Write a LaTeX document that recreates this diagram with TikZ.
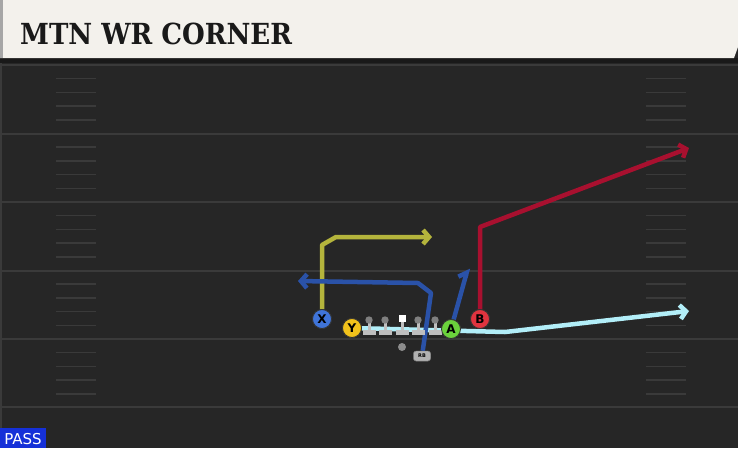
\documentclass[tikz,border=0pt]{standalone}
\usepackage{fontspec}
\setmainfont{DejaVu Sans}
\newfontfamily\titlefont{DejaVu Serif Condensed}
\usetikzlibrary{arrows.meta,shapes}

\definecolor{fieldgray}{HTML}{262626}
\definecolor{linegray}{HTML}{3A3A3A}
\definecolor{headcream}{HTML}{F3F1EC}
\definecolor{passblue}{HTML}{1530D8}
\definecolor{xblue}{HTML}{3F74D9}
\definecolor{yyellow}{HTML}{F2C21B}
\definecolor{agreen}{HTML}{6BD23C}
\definecolor{bred}{HTML}{E0343F}
\definecolor{routeyellow}{HTML}{B4B43C}
\definecolor{routeblue}{HTML}{2A52A8}
\definecolor{routered}{HTML}{A8102F}
\definecolor{routecyan}{HTML}{B2EEF8}

\begin{document}
\begin{tikzpicture}[x=1pt,y=-1pt,
		player/.style={circle,draw=black!80,line width=0.8pt,minimum size=19pt,inner sep=0pt,font=\bfseries\fontsize{12}{12}\selectfont},
		rbtag/.style={draw=black!60,fill=black!30,rounded corners=2.5pt,minimum width=17pt,minimum height=10pt,inner sep=0pt,font=\bfseries\fontsize{5}{5}\selectfont},
		route/.style={line width=4.5pt,line join=round,-{Straight Barb[length=6pt,width=14pt]}},
		hash/.style={linegray,line width=1.5pt}]
		\useasboundingbox (0,0) rectangle (738,448);
		% field
		\fill[fieldgray] (0,0) rectangle (738,448);
		\fill[black!90] (0,58) rectangle (738,63);
		\fill[linegray] (0,63) rectangle (2,448);
		\foreach \y in {65,133.5,202,270.5,339,407} {
			\draw[linegray,line width=2pt] (0,\y) -- (738,\y);
		}
		\foreach \y in {65,133.5,202,270.5,339} {
			\foreach \k in {1,2,3,4} {
				\draw[hash] (56,\y+13.7*\k) -- (96,\y+13.7*\k);
				\draw[hash] (646,\y+13.7*\k) -- (686,\y+13.7*\k);
			}
		}
		% header
		\fill[headcream] (0,0) -- (738,0) -- (738,47) -- (734,58) -- (0,58) -- cycle;
		\fill[black!35] (0,0) rectangle (3,58);
		\node[anchor=base west,inner sep=0pt,font=\titlefont\bfseries\fontsize{29}{29}\selectfont,text=black!90] (title) at (20,44) {MTN WR CORNER};
		% pass tag
		\fill[passblue] (0,428) rectangle (46,448);
		\node[anchor=base,inner sep=0pt,text=white,font=\fontsize{15}{15}\selectfont] (pass) at (23,444) {PASS};
		% players
		\node[player,fill=xblue] (X) at (322,319) {X};
		\node[player,fill=yyellow] (Y) at (352,328) {Y};
		\node[player,fill=agreen] (A) at (451,329) {A};
		\node[player,fill=bred] (B) at (480,319) {B};
		\node[rbtag] (RB) at (422,356) {RB};
		\node[circle,fill=black!45,minimum size=8pt,inner sep=0pt] (QB) at (402,347) {};
		% route points
		\coordinate (xcut) at (322,245);
		\coordinate (xbend) at (336,237);
		\coordinate (xend) at (432,237);
		\coordinate (rbup) at (431,293);
		\coordinate (rbbend) at (418,283);
		\coordinate (rbend) at (298,281);
		\coordinate (aend) at (468,268);
		\coordinate (bcut) at (480,227);
		\coordinate (bend) at (689,148);
		\coordinate (ybend) at (505,332);
		\coordinate (yend) at (689,311);
		% routes
		\draw[route,routecyan] (Y) -- (ybend) -- (yend);
		\draw[route,routeyellow] (X) -- (xcut) -- (xbend) -- (xend);
		\draw[route,routeblue] (RB) -- (rbup) -- (rbbend) -- (rbend);
		\draw[route,routeblue,-{Straight Barb[left,length=6pt,width=14pt]}] (A) -- (aend);
		\draw[route,routered] (B) -- (bcut) -- (bend);
		% line
		\foreach \x in {369,385,418,435} {
			\fill[black!25] (\x-6.5,330) rectangle (\x+6.5,335);
			\fill[black!25] (\x-1.5,323) rectangle (\x+1.5,330);
			\fill[black!50] (\x,320) circle (3.7);
		}
		\fill[black!25] (395.5,330) rectangle (408.5,335);
		\fill[black!25] (400.5,322) rectangle (403.5,330);
		\fill[white] (398.5,315) rectangle (405.5,322);
		% players on top
		\node[player,fill=xblue] at (X) {X};
		\node[player,fill=yyellow] at (Y) {Y};
		\node[player,fill=agreen] at (A) {A};
		\node[player,fill=bred] at (B) {B};
		\node[rbtag] at (RB) {RB};
	\end{tikzpicture}
\end{document}
